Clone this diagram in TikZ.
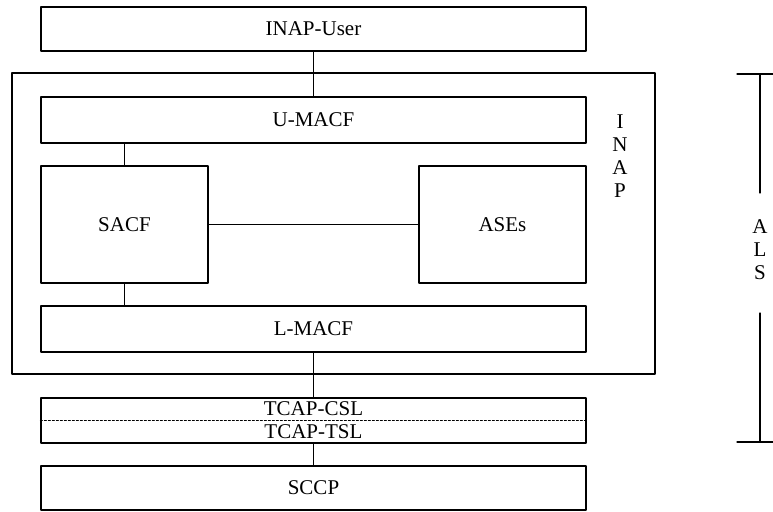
\documentclass[tikz,border=0pt]{standalone}
\usepackage{fontspec}
\setmainfont{Liberation Serif}

\begin{document}
\begin{tikzpicture}[
    x=0.5pt, y=-0.5pt,
    line cap=round,
    line join=round,
    every node/.style={font=\fontsize{10.5}{12}\selectfont},
    layer/.style={draw, line width=0.6pt, inner sep=0pt,
        minimum width=272.5pt, minimum height=#1},
    block/.style={draw, line width=0.6pt, inner sep=0pt,
        minimum width=83.5pt, minimum height=58.5pt},
    link/.style={line width=0.6pt}
]

\useasboundingbox (0,0) rectangle (773,511);

% Umrandung INAP
\node[draw, line width=0.6pt, inner sep=0pt,
    minimum width=321.5pt, minimum height=150.5pt] (inap) at (333.5,223.5) {};

% Schichten
\node[layer=22pt]   (user)  at (313.5,29)    {INAP-User};
\node[layer=23pt]   (umacf) at (313.5,120)   {U-MACF};
\node[layer=23pt]   (lmacf) at (313.5,329)   {L-MACF};
\node[layer=22.5pt] (tcap)  at (313.5,420.5) {};
\node[layer=22pt]   (sccp)  at (313.5,488)   {SCCP};

% Bloecke
\node[block] (sacf) at (124.5,224.5) {SACF};
\node[block] (ases) at (502.5,224.5) {ASEs};

% TCAP unterteilt
\draw[line width=0.5pt, dash pattern=on 1pt off 1pt] (tcap.west) -- (tcap.east);
\node (csl) at (313.5,409) {TCAP-CSL};
\node (tsl) at (313.5,432) {TCAP-TSL};

% Verbindungen
\draw[link] (user.south) -- (umacf.north);
\draw[link] (sacf.north) -- (sacf.north |- umacf.south);
\draw[link] (sacf.south) -- (sacf.south |- lmacf.north);
\draw[link] (sacf.east) -- (ases.west);
\draw[link] (lmacf.south) -- (tcap.north);
\draw[link] (tcap.south) -- (sccp.north);

% Beschriftung INAP
\foreach \ch [count=\i] in {I,N,A,P}
    \node[inner sep=0pt] (inap\i) at (620,{122+23*(\i-1)}) {\ch};

% Klammer ALS
\coordinate (alstop) at (760,74);
\coordinate (alsbot) at (760,442);
\draw[link] ([xshift=-11.5pt]alstop) -- ([xshift=6.5pt]alstop);
\draw[link] ([xshift=-11.5pt]alsbot) -- ([xshift=6.5pt]alsbot);
\draw[link] (alstop) -- ++(0,119);
\draw[link] (alsbot) -- ++(0,-129);
\foreach \ch [count=\i] in {A,L,S}
    \node[inner sep=0pt] (als\i) at (760,{227+23*(\i-1)}) {\ch};

\end{tikzpicture}
\end{document}
